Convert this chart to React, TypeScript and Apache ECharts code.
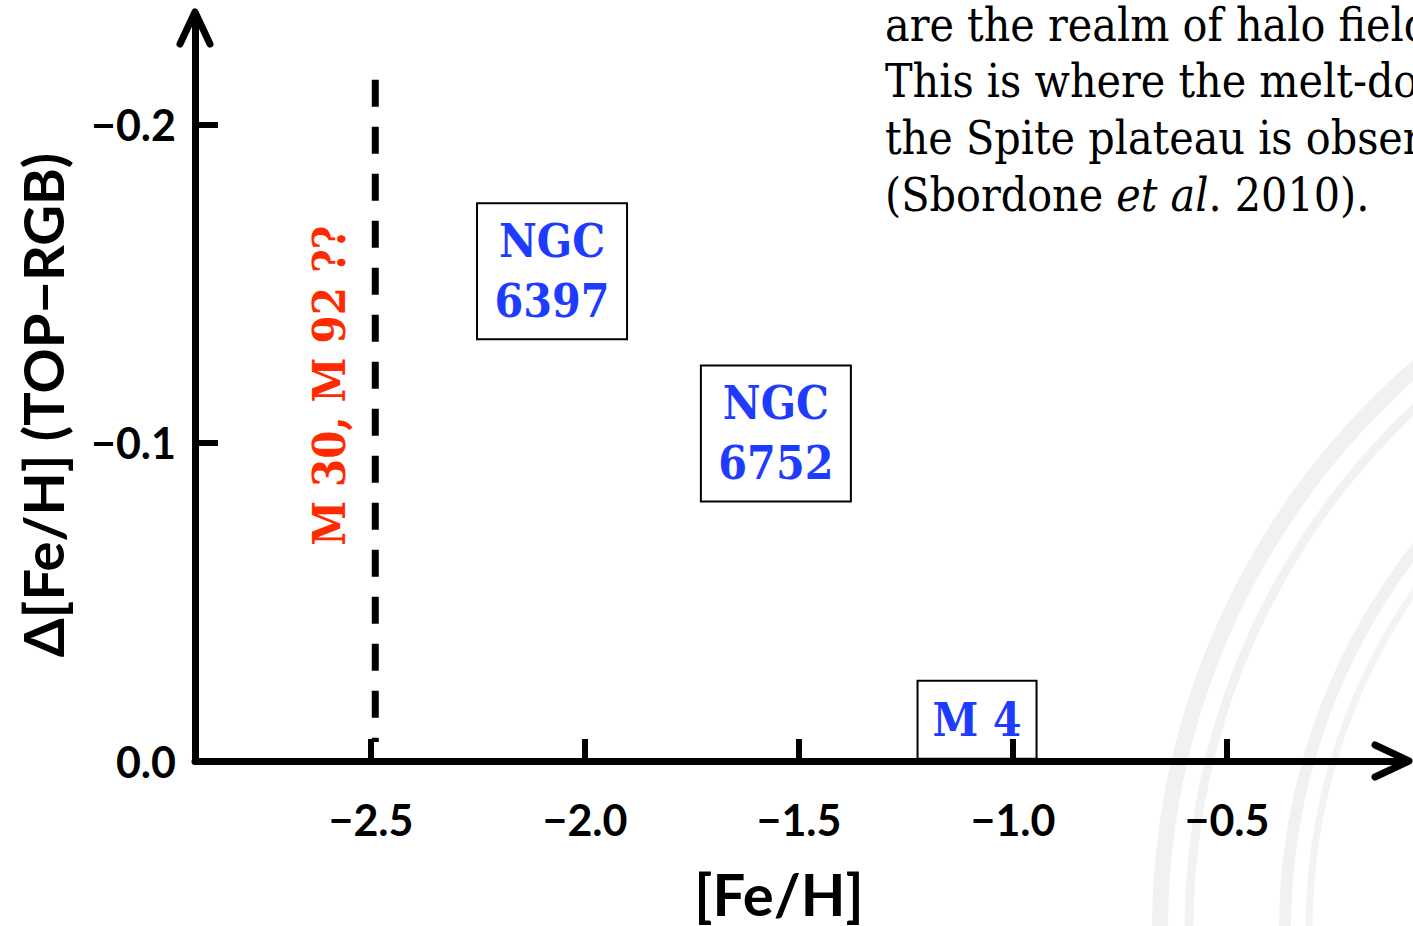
import React, { useEffect, useRef } from 'react';
import * as echarts from 'echarts';

// ---- data ----
const xTicks = [-2.5, -2.0, -1.5, -1.0, -0.5];
const yTicks = [-0.2, -0.1];
const yLabels = [-0.2, -0.1, 0];
const xRange = [-2.9112, -0.0841];
const yRange = [-0.2349, 0];

const clusterNames = ['NGC\n6397', 'NGC\n6752', 'M 4'];
const clusterFeH = [-2.077, -1.554, -1.084];
const clusterDelta = [-0.154, -0.103, -0.013];

const limitFeH = -2.49;
const limitDelta = [-0.2142, -0.006];
const limitLabel = 'M 30, M 92 ??';
const limitLabelPos = [-2.596, -0.118];

const paragraph = [
  'are the realm of halo field',
  'This is where the melt-down',
  'the Spite plateau is observed',
  '(Sbordone {i|et al}. 2010).',
];
const paragraphBaselines = [40, 96, 153, 210];

const xTitle = '[Fe/H]';
const yTitle = 'Δ[Fe/H] (TOP−RGB)';

const SANS = 'Lato, "Open Sans", sans-serif';
const SERIF = '"DejaVu Serif Condensed", "DejaVu Serif", serif';
const BLUE = '#1e3cff';
const RED = '#ff2a00';

const fmt = (v: number) => (v === 0 ? '0.0' : v.toFixed(1).replace('-', '\u2212'));

export default function App() {
  const ref = useRef<HTMLDivElement>(null);
  useEffect(() => {
    if (!ref.current) return;
    const chart = echarts.init(ref.current, undefined, { renderer: 'svg' });
    const option: any = {
      animation: false,
      backgroundColor: '#fff',
      grid: { left: 195, right: 8, top: 14, bottom: 165 },
      xAxis: {
        type: 'value',
        min: xRange[0],
        max: xRange[1],
        position: 'bottom',
        z: 5,
        axisLine: { show: true, onZero: false, lineStyle: { color: '#000', width: 7 } },
        axisTick: { show: true, inside: true, length: 22, customValues: xTicks, lineStyle: { color: '#000', width: 6 } },
        axisLabel: {
          show: true,
          customValues: xTicks,
          formatter: fmt,
          color: '#000',
          fontFamily: SANS,
          fontWeight: 'bold',
          fontSize: 43,
          margin: 37,
        },
        splitLine: { show: false },
      },
      yAxis: {
        type: 'value',
        inverse: true,
        min: yRange[0],
        max: yRange[1],
        z: 5,
        axisLine: { show: true, onZero: false, lineStyle: { color: '#000', width: 7 } },
        axisTick: { show: true, inside: true, length: 23, customValues: yTicks, lineStyle: { color: '#000', width: 6 } },
        axisLabel: {
          show: true,
          customValues: yLabels,
          formatter: fmt,
          color: '#000',
          fontFamily: SANS,
          fontWeight: 'bold',
          fontSize: 43,
          margin: 19,
        },
        splitLine: { show: false },
      },
      series: [
        {
          type: 'line',
          silent: true,
          symbol: 'none',
          z: 3,
          data: [
            [limitFeH, limitDelta[0]],
            [limitFeH, limitDelta[1]],
          ],
          lineStyle: { color: '#000', width: 7, type: [27, 20], opacity: 1 },
        },
        {
          type: 'scatter',
          silent: true,
          symbolSize: 0,
          itemStyle: { opacity: 1 },
          data: [limitLabelPos],
          label: {
            show: true,
            position: 'inside',
            formatter: limitLabel,
            rotate: 90,
            color: RED,
            fontFamily: SERIF,
            fontWeight: 600,
            fontSize: 45,
          },
        },
        {
          type: 'scatter',
          silent: true,
          symbolSize: 0,
          z: 2,
          itemStyle: { opacity: 1 },
          data: clusterFeH.map((x, i) => ({
            value: [x, clusterDelta[i]],
            name: clusterNames[i],
            label:
              i < 2
                ? { width: 146, padding: [8, 2] }
                : { width: 115, padding: [9, 2] },
          })),
          label: {
            show: true,
            position: 'inside',
            formatter: '{b}',
            color: BLUE,
            fontFamily: SERIF,
            fontWeight: 'bold',
            fontSize: 46,
            lineHeight: 60,
            align: 'center',
            borderColor: '#000',
            borderWidth: 2,
          },
        },
      ],
    };
    chart.setOption(option);

    const xEnd = chart.convertToPixel({ xAxisIndex: 0 }, xRange[1]) as number;
    const xStart = chart.convertToPixel({ xAxisIndex: 0 }, xRange[0]) as number;
    const yEnd = chart.convertToPixel({ yAxisIndex: 0 }, yRange[0]) as number;
    const yZero = chart.convertToPixel({ yAxisIndex: 0 }, 0) as number;

    const arrowStyle = { stroke: '#000', lineWidth: 7, lineCap: 'round', lineJoin: 'round', fill: 'none' };
    const seal = { cx: 1905, cy: 930 };
    const graphics: any[] = [
      // faint seal watermark
      { type: 'circle', z: -10, silent: true, shape: { ...seal, r: 745 }, style: { fill: 'none', stroke: '#f1f1f1', lineWidth: 16 } },
      { type: 'circle', z: -10, silent: true, shape: { ...seal, r: 716 }, style: { fill: 'none', stroke: '#f2f2f2', lineWidth: 9 } },
      { type: 'circle', z: -10, silent: true, shape: { ...seal, r: 620 }, style: { fill: 'none', stroke: '#f1f1f1', lineWidth: 12 } },
      { type: 'circle', z: -10, silent: true, shape: { ...seal, r: 596 }, style: { fill: 'none', stroke: '#f3f3f3', lineWidth: 7 } },
      // axis arrows
      {
        type: 'polyline',
        z: 20,
        silent: true,
        shape: { points: [[xEnd - 30, yZero - 16], [xEnd + 4, yZero], [xEnd - 30, yZero + 16]] },
        style: arrowStyle,
      },
      {
        type: 'polyline',
        z: 20,
        silent: true,
        shape: { points: [[xStart - 15, yEnd + 30], [xStart, yEnd - 2], [xStart + 15, yEnd + 30]] },
        style: arrowStyle,
      },
      // axis titles
      {
        type: 'text',
        z: 20,
        silent: true,
        x: 42,
        y: 405,
        rotation: Math.PI / 2,
        style: { text: yTitle, fill: '#000', font: `bold 56px ${SANS}`, align: 'center', verticalAlign: 'middle' },
      },
      {
        type: 'text',
        z: 20,
        silent: true,
        x: 779,
        y: 893,
        style: { text: xTitle, fill: '#000', font: `bold 58px ${SANS}`, align: 'center', verticalAlign: 'middle' },
      },
      // paragraph text
      ...paragraph.map((t, i) => ({
        type: 'text',
        z: 20,
        silent: true,
        x: 885,
        y: paragraphBaselines[i] - 15,
        style: {
          text: t,
          fill: '#000',
          font: `46px ${SERIF}`,
          verticalAlign: 'middle',
          rich: { i: { fontStyle: 'italic', fontSize: 46, fontFamily: SERIF, fill: '#000' } },
        },
      })),
    ];
    chart.setOption({ graphic: graphics });

    return () => chart.dispose();
  }, []);
  return <div ref={ref} style={{ position: 'fixed', left: 0, top: 0, width: 1413, height: 926 }} />;
}
